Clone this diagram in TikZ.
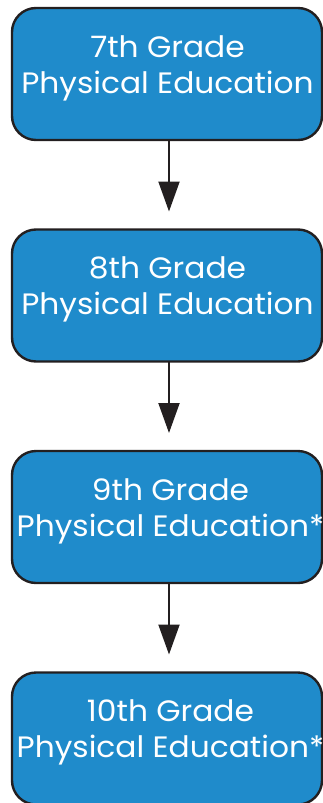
\documentclass[tikz,border=0pt]{standalone}
\usepackage{fontspec}
\setmainfont[FakeStretch=1.06]{Poppins}
\usetikzlibrary{arrows.meta}
\definecolor{boxblue}{HTML}{1F8BCB}
\definecolor{edge}{HTML}{231F20}
\tikzset{
  gradebox/.style={draw=edge, fill=boxblue, line width=2.4pt, rounded corners=24pt},
  gradetext/.style={text=white, font=\fontsize{29.5}{36}\selectfont, align=center, anchor=base, inner sep=0pt},
  flow/.style={draw=edge, line width=2pt, -{Triangle[length=30pt,width=21pt]}}
}
\begin{document}
\begin{tikzpicture}[x=1pt,y=-1pt]
\useasboundingbox (0,0) rectangle (323,803);
\clip (0,0) rectangle (323,803);
\foreach \n/\t/\a/\cx [count=\i from 0] in {a/7th//167.5,b/8th//167.5,c/9th/*/170.5,d/10th/*/170.5}{
  \pgfmathsetmacro{\top}{8+221.5*\i}
  \draw[gradebox] (12,\top) rectangle (322,\top+132);
  \coordinate (\n top) at (169,\top);
  \coordinate (\n bot) at (169,\top+132);
  \node[gradetext] (\n1) at (\cx,\top+49) {\t\ Grade};
  \node[gradetext] (\n2) at (\cx,\top+85) {Physical Education\a};
}
\draw[flow] (abot) -- ([yshift=18pt]btop);
\draw[flow] (bbot) -- ([yshift=18pt]ctop);
\draw[flow] (cbot) -- ([yshift=18pt]dtop);
\end{tikzpicture}
\end{document}
